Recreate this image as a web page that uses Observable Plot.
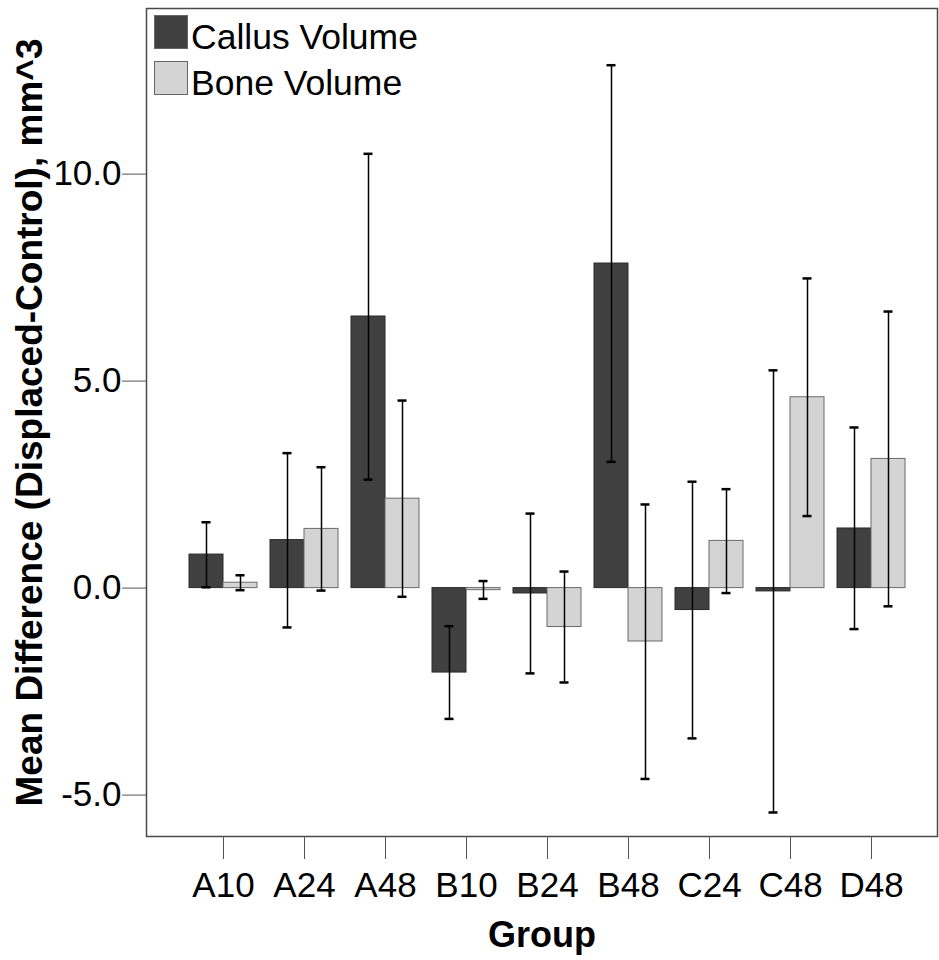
<!DOCTYPE html>
<html>
<head>
<meta charset="utf-8">
<script src="https://cdn.jsdelivr.net/npm/d3@7"></script>
<script src="https://cdn.jsdelivr.net/npm/@observablehq/plot@0.6"></script>
<style>
  html, body { margin: 0; padding: 0; background: #fff; }
  #wrap { position: relative; width: 939px; height: 960px; }
  #legend { position: absolute; left: 154px; top: 15px; font-family: "Liberation Sans", Arial, sans-serif; font-size: 35.5px; color: #000; }
  .item { display: flex; align-items: flex-start; height: 34px; margin-bottom: 12px; }
  .sw { width: 32px; height: 32px; border: 1px solid #666; }
  .lab { margin-left: 3px; line-height: 34px; position: relative; top: 5px; white-space: nowrap; }
</style>
</head>
<body>
<div id="wrap">
  <div id="chart"></div>
  <div id="legend"></div>
</div>
<script>
const groups = ["A10", "A24", "A48", "B10", "B24", "B48", "C24", "C48", "D48"];
const seriesNames = ["Callus Volume", "Bone Volume"];
const seriesColors = ["#404040", "#d4d4d4"];

const callusMean = [0.81, 1.16, 6.56, -2.04, -0.13, 7.84, -0.53, -0.08, 1.44];
const callusLo   = [0.02, -0.95, 2.62, -3.16, -2.06, 3.05, -3.63, -5.42, -0.99];
const callusHi   = [1.59, 3.26, 10.49, -0.92, 1.80, 12.63, 2.57, 5.26, 3.88];

const boneMean = [0.13, 1.43, 2.16, -0.05, -0.94, -1.29, 1.14, 4.61, 3.12];
const boneLo   = [-0.05, -0.06, -0.21, -0.26, -2.28, -4.61, -0.12, 1.74, -0.44];
const boneHi   = [0.31, 2.92, 4.53, 0.17, 0.40, 2.02, 2.39, 7.48, 6.68];

const yTicks = [-5, 0, 5, 10];

const callus = groups.map((g, i) => ({group: g, mean: callusMean[i], lo: callusLo[i], hi: callusHi[i]}));
const bone = groups.map((g, i) => ({group: g, mean: boneMean[i], lo: boneLo[i], hi: boneHi[i]}));

const font = "'Liberation Sans', Arial, sans-serif";

const chart = Plot.plot({
  width: 939,
  height: 960,
  marginLeft: 146,
  marginRight: 2,
  marginTop: 8,
  marginBottom: 124,
  style: {fontFamily: font, background: "#fff", color: "#000"},
  x: {domain: groups, range: [179.5, 913.8], paddingInner: 1 / 6, paddingOuter: 1 / 12},
  y: {domain: [-6, 14]},
  marks: [
    Plot.barY(callus, {x: "group", y: "mean", fill: seriesColors[0], stroke: "#2a2a2a", strokeWidth: 1, insetRight: 34}),
    Plot.barY(bone, {x: "group", y: "mean", fill: seriesColors[1], stroke: "#6a6a6a", strokeWidth: 1, insetLeft: 34}),
    Plot.ruleX(callus, {x: "group", y1: "lo", y2: "hi", dx: -17, stroke: "#000", strokeWidth: 1.5}),
    Plot.ruleX(bone, {x: "group", y1: "lo", y2: "hi", dx: 17, stroke: "#000", strokeWidth: 1.5}),
    Plot.tickY(callus, {x: "group", y: "hi", insetLeft: 12.5, insetRight: 46.5, stroke: "#000", strokeWidth: 2.5}),
    Plot.tickY(callus, {x: "group", y: "lo", insetLeft: 12.5, insetRight: 46.5, stroke: "#000", strokeWidth: 2.5}),
    Plot.tickY(bone, {x: "group", y: "hi", insetLeft: 46.5, insetRight: 12.5, stroke: "#000", strokeWidth: 2.5}),
    Plot.tickY(bone, {x: "group", y: "lo", insetLeft: 46.5, insetRight: 12.5, stroke: "#000", strokeWidth: 2.5}),
    Plot.frame({stroke: "#4a4a4a", strokeWidth: 1.5}),
    Plot.axisY({
      ticks: yTicks,
      tickFormat: d => d.toFixed(1),
      tickSize: 24,
      tickPadding: 1,
      fontSize: 35,
      stroke: "#555",
      fill: "#000",
      label: "Mean Difference (Displaced-Control), mm^3",
      labelAnchor: "center",
      labelArrow: false,
      labelOffset: 131
    }),
    Plot.axisX({
      tickSize: 23,
      tickPadding: 13,
      fontSize: 35,
      stroke: "#555",
      fill: "#000",
      label: "Group",
      labelAnchor: "center",
      labelArrow: false,
      labelOffset: 110
    })
  ]
});

// Bold, larger axis titles
chart.querySelectorAll("g[aria-label='y-axis label'] text").forEach(t => {
  t.setAttribute("font-weight", "bold");
  t.setAttribute("font-size", "37");
});
chart.querySelectorAll("g[aria-label='x-axis label'] text").forEach(t => {
  t.setAttribute("font-weight", "bold");
  t.setAttribute("font-size", "36");
});
document.getElementById("chart").appendChild(chart);

const legend = document.getElementById("legend");
seriesNames.forEach((name, i) => {
  const item = document.createElement("div");
  item.className = "item";
  const sw = document.createElement("div");
  sw.className = "sw";
  sw.style.background = seriesColors[i];
  const lab = document.createElement("span");
  lab.className = "lab";
  lab.textContent = name;
  item.appendChild(sw);
  item.appendChild(lab);
  legend.appendChild(item);
});
</script>
</body>
</html>
